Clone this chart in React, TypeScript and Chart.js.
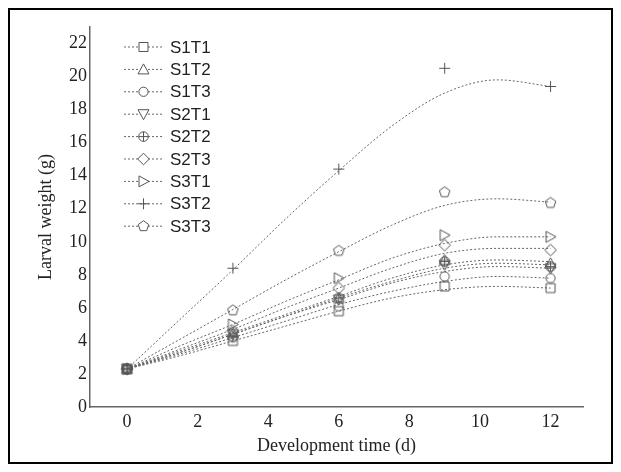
import React, { useEffect, useRef } from "react";
import { Chart, registerables } from "chart.js";

Chart.register(...registerables);

// ---- data ----
const seriesNames = ["S1T1", "S1T2", "S1T3", "S2T1", "S2T2", "S2T3", "S3T1", "S3T2", "S3T3"];
const markerKinds = ["square", "triUp", "circle", "triDown", "crossCircle", "diamond", "triRight", "plus", "pentagon"];

// measured points (development time, d)
const measuredDays = [0, 3, 6, 9, 12];
const s1t1 = [2.3, 4.0, 5.8, 7.3, 7.2];
const s1t2 = [2.3, 4.5, 6.6, 8.9, 8.7];
const s1t3 = [2.3, 4.2, 6.1, 7.9, 7.8];
const s2t1 = [2.3, 4.4, 6.5, 8.6, 8.4];
const s2t2 = [2.3, 4.3, 6.6, 8.8, 8.5];
const s2t3 = [2.3, 4.6, 7.2, 9.8, 9.5];
const s3t1 = [2.3, 5.0, 7.8, 10.4, 10.3];
const s3t2 = [2.3, 8.4, 14.4, 20.5, 19.4];
const s3t3 = [2.3, 5.85, 9.45, 13.0, 12.35];
const measured = [s1t1, s1t2, s1t3, s2t1, s2t2, s2t3, s3t1, s3t2, s3t3];

// fitted curves
const curveDays = [0, 1.5, 3, 4.5, 6, 7.5, 9, 10.5, 12];
const fitS1T1 = [2.3, 3.1, 4.0, 4.9, 5.8, 6.6, 7.1, 7.3, 7.2];
const fitS1T2 = [2.3, 3.4, 4.5, 5.6, 6.7, 7.8, 8.6, 8.9, 8.8];
const fitS1T3 = [2.3, 3.2, 4.2, 5.2, 6.2, 7.0, 7.6, 7.9, 7.8];
const fitS2T1 = [2.3, 3.3, 4.4, 5.5, 6.5, 7.5, 8.2, 8.5, 8.4];
const fitS2T2 = [2.3, 3.3, 4.4, 5.5, 6.6, 7.6, 8.4, 8.7, 8.6];
const fitS2T3 = [2.3, 3.5, 4.7, 6.0, 7.2, 8.4, 9.3, 9.6, 9.6];
const fitS3T1 = [2.3, 3.7, 5.0, 6.4, 7.7, 9.0, 9.9, 10.3, 10.3];
const fitS3T2 = [2.3, 5.3, 8.3, 11.4, 14.3, 17.0, 19.0, 19.8, 19.4];
const fitS3T3 = [2.3, 4.1, 5.9, 7.7, 9.4, 11.0, 12.2, 12.6, 12.4];
const fits = [fitS1T1, fitS1T2, fitS1T3, fitS2T1, fitS2T2, fitS2T3, fitS3T1, fitS3T2, fitS3T3];

const xTickValues = [0, 2, 4, 6, 8, 10, 12];
const yTickValues = [0, 2, 4, 6, 8, 10, 12, 14, 16, 18, 20, 22];

const MARK = "#555";
const LINE = "#666";

function drawMarker(ctx: CanvasRenderingContext2D, kind: string, cx: number, cy: number, fill: string | null) {
  ctx.save();
  ctx.strokeStyle = MARK;
  ctx.lineWidth = 1;
  ctx.beginPath();
  const poly = (pts: number[][]) => {
    ctx.moveTo(cx + pts[0][0], cy + pts[0][1]);
    for (let i = 1; i < pts.length; i++) ctx.lineTo(cx + pts[i][0], cy + pts[i][1]);
    ctx.closePath();
  };
  switch (kind) {
    case "square":
      ctx.rect(cx - 4.5, cy - 4.5, 9, 9);
      break;
    case "triUp":
      poly([[0, -5.5], [5.5, 4.5], [-5.5, 4.5]]);
      break;
    case "triDown":
      poly([[0, 5.5], [5.5, -4.5], [-5.5, -4.5]]);
      break;
    case "triRight":
      poly([[5.5, 0], [-4.5, -5.5], [-4.5, 5.5]]);
      break;
    case "circle":
      ctx.arc(cx, cy, 4.6, 0, Math.PI * 2);
      break;
    case "crossCircle":
      ctx.arc(cx, cy, 4.8, 0, Math.PI * 2);
      break;
    case "diamond":
      poly([[0, 5.8], [5.8, 0], [0, -5.8], [-5.8, 0]]);
      break;
    case "pentagon": {
      const pts: number[][] = [];
      for (let i = 0; i < 5; i++) {
        const a = -Math.PI / 2 + (i * 2 * Math.PI) / 5;
        pts.push([5.5 * Math.cos(a), 5.5 * Math.sin(a)]);
      }
      poly(pts);
      break;
    }
    case "plus":
      break;
  }
  if (kind !== "plus") {
    if (fill) {
      ctx.fillStyle = fill;
      ctx.fill();
    }
    ctx.stroke();
  }
  if (kind === "crossCircle" || kind === "plus") {
    const r = kind === "plus" ? 5.5 : 4.8;
    ctx.beginPath();
    ctx.moveTo(cx - r, cy);
    ctx.lineTo(cx + r, cy);
    ctx.moveTo(cx, cy - r);
    ctx.lineTo(cx, cy + r);
    ctx.stroke();
  }
  ctx.restore();
}

function markerImage(kind: string): HTMLCanvasElement {
  const c = document.createElement("canvas");
  c.width = 15;
  c.height = 15;
  const ctx = c.getContext("2d")!;
  drawMarker(ctx, kind, 7.5, 7.5, null);
  return c;
}

const legendPlugin = {
  id: "customLegend",
  afterDraw(chart: any) {
    const ctx: CanvasRenderingContext2D = chart.ctx;
    const x0 = 114, x1 = 153, mx = 133.5, tx = 160;
    const y0 = 37, dy = 22.4;
    ctx.save();
    seriesNames.forEach((name, i) => {
      const y = y0 + i * dy;
      ctx.strokeStyle = LINE;
      ctx.lineWidth = 1;
      ctx.setLineDash([2, 2]);
      ctx.beginPath();
      ctx.moveTo(x0, y);
      ctx.lineTo(x1, y);
      ctx.stroke();
      ctx.setLineDash([]);
      drawMarker(ctx, markerKinds[i], mx, y, "#fff");
      ctx.fillStyle = "#222";
      ctx.font = "17px 'Liberation Sans', Arial, sans-serif";
      ctx.textBaseline = "middle";
      ctx.textAlign = "left";
      ctx.fillText(name, tx, y + 1);
    });
    ctx.restore();
  },
};

export default function App() {
  const ref = useRef<HTMLCanvasElement>(null);
  useEffect(() => {
    if (!ref.current) return;
    const curveSets = fits.map((vals, i) => ({
      label: seriesNames[i] + " fit",
      data: curveDays.map((d, k) => ({ x: d, y: vals[k] })),
      showLine: true,
      borderColor: LINE,
      borderWidth: 1,
      borderDash: [2, 2],
      pointRadius: 0,
      pointHoverRadius: 0,
      cubicInterpolationMode: "monotone" as const,
      fill: false,
    }));
    const pointSets = measured.map((vals, i) => ({
      label: seriesNames[i],
      data: measuredDays.map((d, k) => ({ x: d, y: vals[k] })),
      showLine: false,
      pointStyle: markerImage(markerKinds[i]),
      pointRadius: 7,
      borderColor: MARK,
      backgroundColor: "rgba(0,0,0,0)",
    }));
    const chart = new Chart(ref.current, {
      type: "scatter",
      data: { datasets: [...pointSets, ...curveSets] as any },
      options: {
        animation: false,
        responsive: false,
        layout: { padding: { top: 17, right: 28, left: 0, bottom: 0 } },
        plugins: { legend: { display: false }, tooltip: { enabled: false } },
        scales: {
          x: {
            type: "linear",
            min: -1.05,
            max: 12.92,
            grid: { display: false, drawTicks: false },
            border: { display: true, color: "#666", width: 1.5 },
            ticks: {
              padding: 4,
              color: "#222",
              font: { family: "'Liberation Serif', 'Times New Roman', serif", size: 18 },
            },
            afterBuildTicks: (scale: any) => {
              scale.ticks = xTickValues.map((v) => ({ value: v }));
            },
            afterFit: (scale: any) => {
              scale.height = 55;
            },
            title: {
              display: true,
              text: "Development time (d)",
              color: "#222",
              padding: { top: 0, bottom: 4.5 },
              font: { family: "'Liberation Serif', 'Times New Roman', serif", size: 18 },
            },
          },
          y: {
            type: "linear",
            min: 0,
            max: 23,
            grid: { display: false, drawTicks: false },
            border: { display: true, color: "#666", width: 1.5 },
            ticks: {
              padding: 3,
              color: "#222",
              font: { family: "'Liberation Serif', 'Times New Roman', serif", size: 18 },
            },
            afterBuildTicks: (scale: any) => {
              scale.ticks = yTickValues.map((v) => ({ value: v }));
            },
            afterFit: (scale: any) => {
              scale.width = 80;
            },
            title: {
              display: true,
              text: "Larval weight (g)",
              color: "#222",
              padding: { top: 25, bottom: 0 },
              font: { family: "'Liberation Serif', 'Times New Roman', serif", size: 18 },
            },
          },
        },
      },
      plugins: [legendPlugin],
    });
    return () => chart.destroy();
  }, []);
  return (
    <div
      style={{
        width: 605,
        height: 456,
        boxSizing: "border-box",
        border: "2px solid #000",
        background: "#fff",
      }}
    >
      <canvas ref={ref} width={601} height={452} style={{ display: "block" }} />
    </div>
  );
}
